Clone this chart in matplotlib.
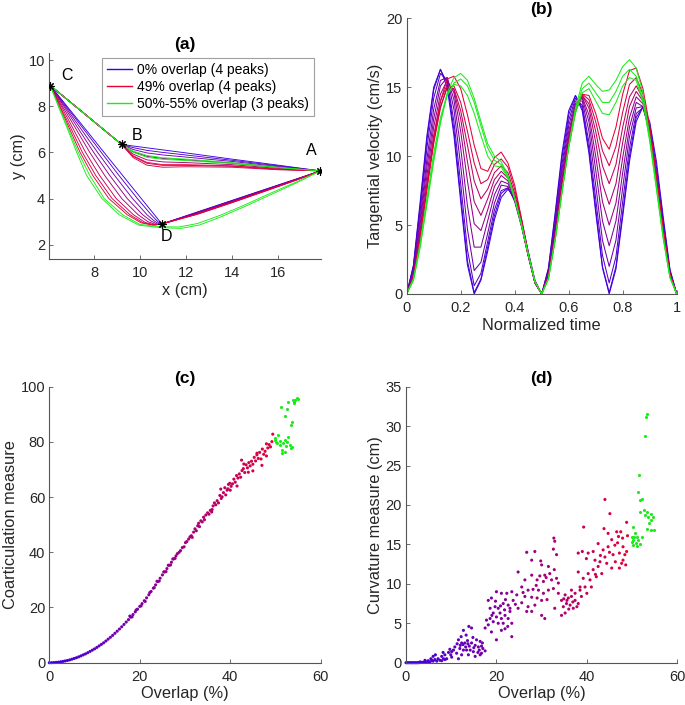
import numpy as np
import matplotlib
matplotlib.use('Agg')
import matplotlib.pyplot as plt
from matplotlib.lines import Line2D

plt.rcParams['font.family'] = ['Liberation Sans', 'DejaVu Sans']

# ---------------- data ----------------
# (a) corners of the path A -> B -> C -> D -> A
corner_names = ['A', 'B', 'C', 'D']
corner_x = [17.85, 9.2, 6.1, 10.95]
corner_y = [5.2, 6.35, 8.9, 2.9]

# overlap (%) of every drawn trajectory
path_overlap = [0, 8, 16, 24, 32, 40, 45, 49, 52, 55]
# upper stroke A -> B -> C, same x for every trajectory
up_x = [17.85, 16, 14, 12, 11, 10.3, 9.7, 9.2, 6.1]
up_y = [
    [5.2, 5.45, 5.71, 5.98, 6.11, 6.20, 6.28, 6.35, 8.9],
    [5.2, 5.42, 5.66, 5.89, 6.00, 6.09, 6.21, 6.35, 8.9],
    [5.2, 5.39, 5.61, 5.80, 5.89, 5.98, 6.13, 6.35, 8.9],
    [5.2, 5.35, 5.54, 5.68, 5.74, 5.83, 6.03, 6.35, 8.9],
    [5.2, 5.31, 5.47, 5.56, 5.59, 5.68, 5.93, 6.35, 8.9],
    [5.2, 5.27, 5.40, 5.44, 5.44, 5.53, 5.83, 6.35, 8.9],
    [5.2, 5.25, 5.36, 5.38, 5.36, 5.45, 5.78, 6.35, 8.9],
    [5.2, 5.28, 5.42, 5.47, 5.47, 5.57, 5.86, 6.35, 8.9],
    [5.2, 5.34, 5.52, 5.65, 5.70, 5.79, 6.01, 6.35, 8.9],
    [5.2, 5.36, 5.56, 5.71, 5.77, 5.87, 6.06, 6.35, 8.9],
]
# lower stroke C -> D -> A
lo_x = [
    [6.1, 6.83, 7.64, 8.44, 9.25, 10.06, 10.63, 10.79, 10.95, 10.95, 12.5, 14.0, 15.5, 16.8, 17.85],
    [6.1, 6.79, 7.56, 8.32, 9.09, 9.89, 10.49, 10.70, 10.90, 10.95, 12.5, 14.0, 15.5, 16.8, 17.85],
    [6.1, 6.74, 7.45, 8.16, 8.90, 9.68, 10.31, 10.60, 10.84, 10.95, 12.5, 14.0, 15.5, 16.8, 17.85],
    [6.1, 6.69, 7.34, 7.99, 8.69, 9.45, 10.12, 10.48, 10.78, 10.95, 12.5, 14.0, 15.5, 16.8, 17.85],
    [6.1, 6.63, 7.23, 7.82, 8.47, 9.21, 9.92, 10.35, 10.70, 10.95, 12.5, 14.0, 15.5, 16.8, 17.85],
    [6.1, 6.58, 7.11, 7.64, 8.25, 8.97, 9.72, 10.22, 10.63, 10.95, 12.5, 14.0, 15.5, 16.8, 17.85],
    [6.1, 6.53, 7.02, 7.50, 8.08, 8.79, 9.57, 10.12, 10.58, 10.95, 12.5, 14.0, 15.5, 16.8, 17.85],
    [6.1, 6.50, 6.95, 7.40, 7.95, 8.65, 9.45, 10.05, 10.55, 10.95, 12.5, 14.0, 15.5, 16.8, 17.85],
    [6.1, 6.47, 6.90, 7.32, 7.82, 8.45, 9.25, 10.0, 10.9, 11.7, 12.5, 13.5, 14.5, 15.6, 16.8, 17.85],
    [6.1, 6.45, 6.86, 7.25, 7.68, 8.35, 9.10, 9.95, 10.9, 11.8, 12.6, 13.5, 14.5, 15.6, 16.8, 17.85],
]
lo_y = [
    [8.9, 8.0, 7.0, 6.0, 5.0, 4.0, 3.3, 3.10, 2.90, 2.9, 3.42, 3.92, 4.42, 4.85, 5.2],
    [8.9, 8.0, 7.0, 6.0, 5.0, 4.0, 3.3, 3.08, 2.89, 2.9, 3.41, 3.91, 4.41, 4.84, 5.2],
    [8.9, 8.0, 7.0, 6.0, 5.0, 4.0, 3.3, 3.05, 2.89, 2.9, 3.39, 3.89, 4.40, 4.84, 5.2],
    [8.9, 8.0, 7.0, 6.0, 5.0, 4.0, 3.3, 3.03, 2.88, 2.9, 3.37, 3.87, 4.38, 4.83, 5.2],
    [8.9, 8.0, 7.0, 6.0, 5.0, 4.0, 3.3, 3.00, 2.87, 2.9, 3.36, 3.86, 4.37, 4.82, 5.2],
    [8.9, 8.0, 7.0, 6.0, 5.0, 4.0, 3.3, 2.97, 2.86, 2.9, 3.34, 3.84, 4.36, 4.81, 5.2],
    [8.9, 8.0, 7.0, 6.0, 5.0, 4.0, 3.3, 2.96, 2.85, 2.9, 3.33, 3.83, 4.35, 4.81, 5.2],
    [8.9, 8.0, 7.0, 6.0, 5.0, 4.0, 3.3, 2.95, 2.85, 2.9, 3.32, 3.82, 4.34, 4.80, 5.2],
    [8.9, 8.0, 7.0, 6.0, 5.0, 4.0, 3.3, 2.88, 2.78, 2.77, 2.92, 3.28, 3.70, 4.20, 4.72, 5.2],
    [8.9, 8.0, 7.0, 6.0, 5.0, 4.0, 3.3, 2.85, 2.74, 2.71, 2.86, 3.20, 3.63, 4.13, 4.68, 5.2],
]
legend_labels = ['0% overlap (4 peaks)', '49% overlap (4 peaks)', '50%-55% overlap (3 peaks)']
legend_overlap = [0, 49, 55]

# (b) tangential velocity, sampled every 0.025 of normalized time
vel_overlap = [0, 4, 9, 15, 21, 27, 33, 39, 44, 49, 51, 53, 55]
vel = [
    [0, 2.1, 6.7, 11.5, 15.0, 16.3, 15.0, 11.5, 6.7, 2.1, 0, 1.0, 3.1, 5.4, 7.0, 7.6, 7.0, 5.4, 3.1, 1.0, 0,
     1.9, 5.9, 10.2, 13.3, 14.4, 13.3, 10.2, 5.9, 1.9, 0, 1.8, 5.6, 9.6, 12.5, 13.6, 12.5, 9.6, 5.6, 1.8, 0],
    [0, 2.0, 6.4, 11.2, 14.8, 16.3, 15.3, 11.9, 7.1, 2.4, 0.1, 1.1, 3.4, 5.7, 7.3, 7.7, 6.9, 5.2, 3.0, 0.9, 0,
     1.8, 5.7, 9.9, 13.0, 14.4, 13.5, 10.5, 6.2, 2.0, 0.1, 2.0, 5.9, 10.0, 12.8, 13.6, 12.3, 9.2, 5.3, 1.7, 0],
    [0, 1.9, 6.0, 10.6, 14.2, 16.0, 15.5, 12.5, 8.0, 3.2, 0.6, 1.5, 3.8, 6.1, 7.5, 7.7, 6.8, 5.0, 2.8, 0.9, 0,
     1.7, 5.3, 9.4, 12.6, 14.2, 13.7, 11.0, 6.9, 2.8, 0.8, 2.7, 6.7, 10.6, 13.1, 13.5, 11.9, 8.8, 5.0, 1.6, 0],
    [0, 1.7, 5.5, 9.8, 13.4, 15.5, 15.7, 13.4, 9.3, 4.7, 1.7, 2.3, 4.4, 6.6, 7.9, 7.8, 6.7, 4.9, 2.8, 0.8, 0,
     1.5, 5.0, 9.0, 12.2, 14.0, 14.0, 11.8, 7.9, 3.9, 2.0, 3.9, 7.7, 11.4, 13.5, 13.6, 11.8, 8.6, 4.9, 1.5, 0],
    [0, 1.5, 5.1, 9.2, 12.7, 15.1, 15.7, 14.1, 10.6, 6.4, 3.4, 3.4, 5.3, 7.2, 8.2, 8.0, 6.9, 5.0, 2.8, 0.8, 0,
     1.5, 4.8, 8.6, 11.8, 13.8, 14.2, 12.5, 9.0, 5.3, 3.5, 5.3, 8.8, 12.1, 13.9, 13.6, 11.7, 8.5, 4.7, 1.4, 0],
    [0, 1.4, 4.7, 8.6, 12.1, 14.5, 15.5, 14.6, 11.8, 8.2, 5.1, 4.6, 6.1, 7.8, 8.6, 8.2, 7.0, 5.0, 2.8, 0.8, 0,
     1.4, 4.5, 8.3, 11.5, 13.7, 14.3, 13.0, 10.0, 6.7, 5.0, 6.6, 9.9, 12.8, 14.3, 13.8, 11.7, 8.4, 4.7, 1.4, 0],
    [0, 1.3, 4.4, 8.1, 11.5, 14.0, 15.2, 14.8, 12.7, 9.6, 6.7, 5.7, 6.9, 8.3, 8.9, 8.4, 7.1, 5.0, 2.8, 0.8, 0,
     1.3, 4.4, 8.0, 11.3, 13.6, 14.4, 13.5, 11.0, 8.0, 6.5, 8.0, 11.0, 13.6, 14.7, 14.0, 11.8, 8.4, 4.6, 1.4, 0],
    [0, 1.2, 4.2, 7.7, 11.1, 13.6, 15.0, 14.9, 13.3, 10.8, 8.2, 6.9, 7.6, 8.8, 9.3, 8.8, 7.3, 5.2, 2.8, 0.9, 0,
     1.3, 4.2, 7.8, 11.0, 13.3, 14.4, 13.8, 11.8, 9.3, 8.0, 9.4, 12.1, 14.3, 15.1, 14.2, 11.8, 8.3, 4.6, 1.4, 0],
    [0, 1.2, 4.1, 7.6, 10.9, 13.5, 15.0, 15.1, 13.9, 11.8, 9.5, 8.0, 8.3, 9.4, 9.8, 9.2, 7.6, 5.4, 2.9, 0.9, 0,
     1.2, 4.1, 7.6, 10.8, 13.3, 14.5, 14.1, 12.5, 10.4, 9.3, 10.7, 13.2, 15.2, 15.7, 14.5, 12.0, 8.4, 4.6, 1.4, 0],
    [0, 1.2, 4.1, 7.7, 11.2, 14.0, 15.6, 15.8, 14.9, 13.0, 10.8, 9.1, 8.9, 9.9, 10.3, 9.5, 7.9, 5.5, 3.0, 0.9, 0,
     1.2, 4.0, 7.5, 10.7, 13.2, 14.5, 14.4, 13.1, 11.3, 10.5, 12.1, 14.5, 16.2, 16.4, 14.9, 12.2, 8.5, 4.6, 1.4, 0],
    [0, 1.1, 3.7, 7.0, 10.2, 12.8, 14.5, 15.2, 15.1, 14.4, 13.1, 11.5, 10.0, 9.3, 9.2, 8.4, 6.9, 5.0, 2.9, 0.9, 0,
     1.1, 4.0, 7.4, 10.6, 13.1, 14.6, 14.9, 14.0, 13.1, 13.0, 13.9, 15.1, 15.7, 15.5, 13.9, 11.1, 7.6, 4.0, 1.2, 0],
    [0, 1.0, 3.5, 6.7, 9.8, 12.5, 14.4, 15.3, 15.6, 15.1, 13.9, 12.2, 10.6, 9.7, 9.4, 8.5, 6.9, 5.0, 2.9, 0.9, 0,
     1.1, 4.0, 7.4, 10.7, 13.3, 14.9, 15.3, 14.6, 13.9, 13.9, 14.7, 15.8, 16.3, 15.8, 14.1, 11.2, 7.7, 4.1, 1.2, 0],
    [0, 1.0, 3.4, 6.5, 9.6, 12.4, 14.6, 15.7, 16.0, 15.5, 14.2, 12.5, 10.9, 10.0, 9.6, 8.6, 7.0, 5.1, 2.9, 0.9, 0,
     1.1, 3.9, 7.3, 10.7, 13.5, 15.3, 15.8, 15.2, 14.7, 14.8, 15.5, 16.5, 17.0, 16.4, 14.6, 11.5, 7.9, 4.2, 1.2, 0],
]
t_norm = np.linspace(0, 1, 41)

# (c) coarticulation measure vs overlap (4-peak cases)
coart_pts = [
    (0, 0), (0.5, 0.01), (1, 0.05), (1.5, 0.11), (2, 0.2), (2.5, 0.32), (3, 0.46), (3.5, 0.62), (4, 0.8),
    (4.5, 1.02), (5, 1.27), (5.5, 1.53), (6, 1.8), (6.5, 2.13), (7, 2.48), (7.5, 2.84), (8, 3.2), (8.5, 3.63),
    (9, 4.08), (9.5, 4.54), (10, 5.0), (10.5, 5.53), (11, 6.07), (11.5, 6.63), (12, 7.2), (12.5, 7.85),
    (13, 8.52), (13.5, 9.2), (14, 9.9), (14.5, 10.65), (15, 11.42), (15.5, 12.2), (16, 13.0), (16.5, 13.85),
    (17, 14.72), (17.5, 15.6), (18, 16.5), (18.5, 17.45), (19, 18.43), (19.5, 19.4), (20, 20.4), (20.5, 21.4),
    (21, 22.45), (21.5, 23.5), (22, 24.6), (22.5, 25.8), (23, 27.0), (23.5, 28.2), (24, 29.4), (24.5, 30.6),
    (25, 31.8), (25.5, 32.9), (26, 34.1), (26.5, 35.3), (27, 36.4), (27.5, 37.6), (28, 38.7),
    (17.8, 16.9), (18.3, 16.6), (19.2, 19.1), (20.3, 20.6), (21.2, 22.2), (22.2, 25.4), (23.2, 27.2),
    (23.8, 29.5), (24.3, 29.6), (25.3, 32.9), (25.8, 33.0), (26.3, 35.3), (26.8, 35.4), (27.3, 37.6),
    (27.8, 37.8),
    (28.3, 39.5), (28.7, 40.0), (29.0, 40.6), (29.4, 41.7), (29.8, 42.0), (30.1, 43.5), (30.4, 43.9),
    (30.8, 44.8), (31.1, 45.6), (31.4, 46.0), (31.6, 45.4), (31.9, 47.3), (32.2, 48.5), (32.5, 47.8),
    (32.8, 49.6), (33.0, 50.5), (33.2, 49.3), (33.5, 51.4), (33.8, 51.0), (34.1, 52.7), (34.3, 51.8),
    (34.6, 53.5), (35.0, 54.3), (35.3, 53.8), (35.6, 55.2), (35.9, 54.6), (36.2, 56.8), (36.5, 57.9),
    (36.8, 57.2), (37.1, 58.7), (37.4, 57.9), (37.7, 60.6), (37.9, 62.9), (38.2, 60.1), (38.5, 61.6),
    (38.8, 63.4), (39.0, 60.8), (39.3, 62.5), (39.6, 64.6), (39.9, 65.0), (40.2, 63.9), (40.5, 64.8),
    (40.8, 66.5), (41.1, 65.4), (41.4, 67.8), (41.7, 66.9), (42.0, 68.4), (42.3, 67.2), (42.6, 69.6),
    (42.9, 70.3), (43.2, 68.9), (43.5, 71.7), (43.8, 70.6), (44.1, 72.5), (44.4, 71.3), (44.7, 73.0),
    (45.0, 71.9), (45.3, 74.4), (45.6, 73.1), (45.9, 75.3), (46.2, 74.0), (46.5, 76.2), (46.8, 73.8),
    (47.1, 77.4), (47.4, 75.5), (47.7, 76.6), (48.0, 74.9), (48.3, 77.8), (48.6, 79.0), (48.9, 78.2),
    (49.2, 80.1), (49.4, 82.8), (45.0, 69.5), (43.0, 72.0), (40.0, 62.5), (38.0, 59.5), (47.0, 71.5),
    (44.0, 69.0), (41.5, 64.0), (36.0, 55.5), (39.5, 63.0), (48.0, 79.3), (42.5, 73.4), (45.9, 75.9),
]
# (c) 3-peak cases
coart_green = [
    (49.8, 80.7), (50.1, 80.1), (49.9, 81.3), (50.6, 82.5), (51.0, 78.9), (51.4, 77.1), (51.7, 79.5),
    (52.1, 80.7), (52.5, 80.1), (52.8, 81.9), (53.1, 78.9), (53.6, 78.3), (51.4, 75.8), (52.1, 76.4),
    (50.4, 79.6), (50.9, 80.4), (52.3, 78.6), (53.4, 77.8), (51.2, 92.8), (52.2, 89.4), (52.6, 91.8),
    (53.6, 87.3), (53.4, 86.1), (52.8, 94.6), (54.0, 94.6), (54.4, 95.2), (54.7, 95.8), (55.0, 95.4),
    (54.2, 94.1), (53.8, 95.0),
]

# (d) curvature measure vs overlap (4-peak cases)
curv_pts = [
    (0, 0), (0.3, 0), (0.6, 0), (0.9, 0), (1.2, 0), (1.5, 0), (1.8, 0), (2.1, 0), (2.4, 0), (2.7, 0),
    (3.0, 0.02), (3.3, 0.03), (3.6, 0.05), (3.9, 0.05), (4.2, 0.08), (4.5, 0.06), (4.8, 0.1),
    (3.1, 0.1), (4.2, 0.3), (4.9, 0.25), (5.3, 0.1), (5.7, 0.3), (6.0, 0.2), (6.4, 0.4), (6.8, 0.2),
    (7.5, 0.3), (7.9, 0.25), (8.6, 0.4), (6.0, 0.8), (6.5, 1.0), (5.5, 0.5), (7.1, 0.5), (8.3, 0.5),
    (9.0, 0.5), (10.1, 0.7), (11.6, 0.5), (7.9, 0.8), (8.6, 1.0), (9.4, 1.3), (10.1, 1.4), (11.2, 1.2),
    (12.3, 1.0), (13.8, 1.0), (15.3, 0.8), (16.4, 1.0), (10.8, 2.0), (11.9, 1.8), (12.7, 1.6), (13.4, 1.6),
    (14.2, 1.6), (14.9, 1.4), (15.9, 1.3), (16.7, 1.2), (17.5, 1.5), (11.6, 2.9), (12.3, 2.5), (13.0, 2.5),
    (13.7, 2.4), (14.5, 2.5), (15.3, 2.2), (16.0, 2.0), (16.7, 2.1), (15.6, 2.9), (16.4, 2.7), (12.7, 4.1),
    (13.3, 3.5), (13.9, 4.6), (14.5, 4.4), (9.7, 1.7), (12.0, 2.2), (12.6, 2.3), (13.2, 2.0), (14.0, 2.1),
    (15.0, 1.9), (16.2, 1.6), (8.2, 1.3), (9.9, 1.0), (10.5, 1.6), (11.3, 2.4), (13.6, 2.8), (14.8, 3.2),
    (17.0, 1.8), (16.9, 2.5), (12.2, 3.3),
    (18.2, 7.9), (18.9, 8.2), (20.0, 9.0), (21.1, 8.8), (22.3, 8.8), (18.6, 6.9), (19.7, 7.1), (20.4, 6.9),
    (21.5, 7.5), (22.6, 7.3), (19.3, 6.3), (20.8, 6.3), (21.9, 6.0), (18.6, 5.6), (20.0, 5.8), (21.1, 5.6),
    (22.6, 5.6), (18.2, 4.8), (19.3, 5.2), (20.4, 5.0), (21.5, 5.0), (22.5, 4.6), (18.9, 3.9), (20.0, 2.9),
    (21.1, 4.1), (23.4, 5.0), (21.9, 4.3), (17.5, 4.4), (17.8, 5.4), (19.8, 7.8), (21.8, 6.7), (20.9, 7.2),
    (19.0, 6.0), (22.0, 8.0), (23.0, 6.9),
    (32.7, 15.8), (32.9, 15.4), (33.3, 13.7), (32.6, 14.4), (28.5, 14.1), (26.7, 14.0), (27.8, 13.0),
    (30.0, 12.4), (31.5, 12.2), (32.8, 11.8), (31.8, 11.3), (30.7, 11.1), (29.6, 11.0), (27.8, 11.1),
    (24.8, 11.5), (26.3, 10.5), (29.0, 10.5), (30.4, 10.3), (32.2, 10.5), (33.3, 10.7), (33.7, 10.1),
    (25.6, 9.6), (27.0, 9.2), (28.1, 9.3), (29.3, 9.2), (31.5, 9.2), (32.6, 9.4), (23.4, 9.0), (24.5, 8.6),
    (26.3, 8.4), (27.8, 8.3), (29.0, 8.2), (30.4, 8.8), (23.7, 7.9), (25.6, 7.6), (27.0, 7.1), (28.5, 7.3),
    (30.0, 7.9), (24.8, 6.9), (26.7, 6.5), (27.8, 6.5), (30.0, 6.0), (30.7, 5.6), (23.0, 6.5), (23.4, 3.3),
    (32.9, 6.9), (29.8, 12.9), (31.0, 10.8), (25.9, 8.9), (28.8, 9.8), (24.2, 7.4), (31.2, 8.0),
    (33.7, 8.8), (34.4, 7.9), (35.2, 8.6), (35.9, 8.2), (36.6, 8.4), (37.4, 7.9), (38.1, 7.5), (34.8, 7.1),
    (35.5, 7.5), (36.3, 7.3), (37.0, 6.9), (37.8, 7.1), (35.2, 6.3), (34.4, 6.0), (37.4, 8.8), (38.5, 9.6),
    (36.6, 9.2), (35.6, 7.9), (36.9, 7.7), (34.9, 8.1), (36.0, 6.8),
    (44.0, 20.7), (45.1, 18.9), (48.8, 17.8), (43.8, 17.0), (44.7, 16.4), (46.6, 16.6), (47.5, 16.6),
    (45.5, 15.6), (47.0, 16.0), (47.9, 15.8), (49.0, 16.1), (42.5, 15.1), (43.6, 14.3), (44.7, 14.7),
    (46.2, 14.9), (48.0, 14.7), (41.4, 14.1), (40.3, 13.9), (38.1, 13.9), (39.0, 14.1), (39.9, 13.2),
    (41.8, 13.0), (42.9, 12.8), (44.0, 13.4), (45.8, 13.7), (47.2, 13.9), (48.4, 13.7), (48.8, 14.1),
    (46.3, 12.8), (47.7, 12.6), (48.0, 13.0), (42.5, 12.2), (41.4, 11.8), (40.3, 11.3), (38.1, 11.5),
    (39.2, 10.7), (40.7, 10.5), (42.1, 10.9), (43.3, 11.3), (39.6, 9.6), (41.0, 9.6), (38.5, 9.2),
    (40.0, 8.8), (38.8, 8.4), (39.3, 17.2), (45.5, 12.0), (44.4, 12.6), (43.0, 13.6), (46.8, 15.2),
    (48.6, 12.4), (41.9, 11.2), (45.0, 14.0), (47.2, 12.0),
]
# (d) 3-peak cases
curv_green = [
    (53.2, 31.6), (53.1, 31.2), (52.8, 28.7), (51.6, 23.8), (51.4, 21.7), (51.7, 20.6), (52.3, 20.7),
    (51.7, 19.1), (52.7, 19.4), (52.8, 18.7), (53.2, 19.1), (53.6, 18.5), (54.1, 18.1), (54.3, 18.9),
    (54.7, 18.5), (53.8, 17.7), (53.2, 17.0), (54.2, 16.8), (54.9, 16.8), (50.2, 17.2), (50.6, 16.4),
    (51.0, 16.0), (50.0, 16.0), (50.3, 15.6), (50.0, 15.3), (50.1, 14.9), (51.7, 15.1), (51.4, 15.6),
    (52.1, 16.0), (50.4, 15.9), (50.9, 15.2), (51.2, 14.8),
]

# ---------------- colours ----------------
c_blue = np.array([0.22, 0.0, 0.9])
c_red = np.array([0.9, 0.0, 0.22])
c_green = (0.1, 0.92, 0.1)


def col(ov):
    # blue at 0 % overlap, red at 49 %, green for the 3 peak cases
    if ov >= 50:
        return c_green
    f = min(max(ov / 49.0, 0.0), 1.0)
    return tuple(c_blue + (c_red - c_blue) * f)


def style(ax):
    for s in ['top', 'right']:
        ax.spines[s].set_visible(False)
    for s in ['left', 'bottom']:
        ax.spines[s].set_color('#555555')
        ax.spines[s].set_linewidth(0.8)
    ax.tick_params(direction='in', length=3, width=0.6, colors='#555555',
                   labelcolor='#262626', labelsize=10.5)
    ax.tick_params(axis='x', pad=5)
    ax.tick_params(axis='y', pad=3)


fig = plt.figure(figsize=(6.85, 7.05), dpi=100)
ax_a = fig.add_axes([0.072, 0.6322, 0.3962, 0.293])
ax_b = fig.add_axes([0.5937, 0.583, 0.3942, 0.391])
ax_c = fig.add_axes([0.072, 0.060, 0.3962, 0.3915])
ax_d = fig.add_axes([0.5927, 0.060, 0.396, 0.3915])
lab_kw = dict(fontsize=11.8, color='#262626')
tit_kw = dict(fontsize=12.5, fontweight='bold', pad=3)

# ---- (a) trajectories
for i in range(len(path_overlap)):
    c = col(path_overlap[i])
    ax_a.plot(up_x, up_y[i], color=c, lw=0.65)
    ax_a.plot(lo_x[i], lo_y[i], color=c, lw=0.65)
ax_a.plot(corner_x, corner_y, ls='none', marker=(8, 2, 0), ms=6, mew=0.8, color='black', zorder=5)
label_off = {'A': (-0.39, 0.9), 'B': (0.66, 0.4), 'C': (0.71, 0.45), 'D': (0.21, -0.55)}
for n, x, y in zip(corner_names, corner_x, corner_y):
    dx, dy = label_off[n]
    ax_a.text(x + dx, y + dy, n, fontsize=11.5, ha='center', va='center', color='black')
ax_a.set_xlim(6.06, 17.86)
ax_a.set_ylim(1.37, 10.32)
ax_a.set_xticks([8, 10, 12, 14, 16])
ax_a.set_yticks([2, 4, 6, 8, 10])
style(ax_a)
ax_a.set_xlabel('x (cm)', labelpad=2, **lab_kw)
ax_a.set_ylabel('y (cm)', labelpad=2, **lab_kw)
ax_a.set_title('(a)', **tit_kw)
handles = [Line2D([], [], color=col(o), lw=1.0) for o in legend_overlap]
leg = ax_a.legend(handles, legend_labels, loc='upper left',
                  bbox_to_anchor=(101.7 / 685, 1 - 58.3 / 705), bbox_transform=fig.transFigure,
                  borderaxespad=0, fontsize=10, handlelength=1.8, handletextpad=0.4,
                  labelspacing=0.22, borderpad=0.35, frameon=True, fancybox=False)
leg.get_frame().set_edgecolor('#888888')
leg.get_frame().set_linewidth(0.8)

# ---- (b) velocity profiles
for i in range(len(vel_overlap)):
    ax_b.plot(t_norm, vel[i], color=col(vel_overlap[i]), lw=0.75)
ax_b.set_xlim(0, 1)
ax_b.set_ylim(0, 20)
b_ticks = [0, 0.2, 0.4, 0.6, 0.8, 1]
ax_b.set_xticks(b_ticks)
ax_b.set_xticklabels(['%g' % v for v in b_ticks])
ax_b.set_yticks([0, 5, 10, 15, 20])
style(ax_b)
ax_b.set_xlabel('Normalized time', labelpad=2, **lab_kw)
ax_b.set_ylabel('Tangential velocity (cm/s)', labelpad=2, **lab_kw)
ax_b.set_title('(b)', **tit_kw)

# ---- (c) coarticulation measure
cx = [p[0] for p in coart_pts]
cy = [p[1] for p in coart_pts]
ax_c.scatter(cx, cy, s=5, c=[col(v) for v in cx], linewidths=0, clip_on=False)
ax_c.scatter([p[0] for p in coart_green], [p[1] for p in coart_green], s=5, color=c_green,
             linewidths=0, clip_on=False)
ax_c.set_xlim(0, 60)
ax_c.set_ylim(0, 100)
ax_c.set_xticks([0, 20, 40, 60])
ax_c.set_yticks([0, 20, 40, 60, 80, 100])
style(ax_c)
ax_c.set_xlabel('Overlap (%)', labelpad=2, **lab_kw)
ax_c.set_ylabel('Coarticulation measure', labelpad=2, **lab_kw)
ax_c.set_title('(c)', **tit_kw)

# ---- (d) curvature measure
dx_ = [p[0] for p in curv_pts]
dy_ = [p[1] for p in curv_pts]
ax_d.scatter(dx_, dy_, s=5, c=[col(v) for v in dx_], linewidths=0, clip_on=False)
ax_d.scatter([p[0] for p in curv_green], [p[1] for p in curv_green], s=5, color=c_green,
             linewidths=0, clip_on=False)
ax_d.set_xlim(0, 60)
ax_d.set_ylim(0, 35)
ax_d.set_xticks([0, 20, 40, 60])
ax_d.set_yticks([0, 5, 10, 15, 20, 25, 30, 35])
style(ax_d)
ax_d.set_xlabel('Overlap (%)', labelpad=2, **lab_kw)
ax_d.set_ylabel('Curvature measure (cm)', labelpad=2, **lab_kw)
ax_d.set_title('(d)', **tit_kw)

fig.savefig('out.png', dpi=100)
